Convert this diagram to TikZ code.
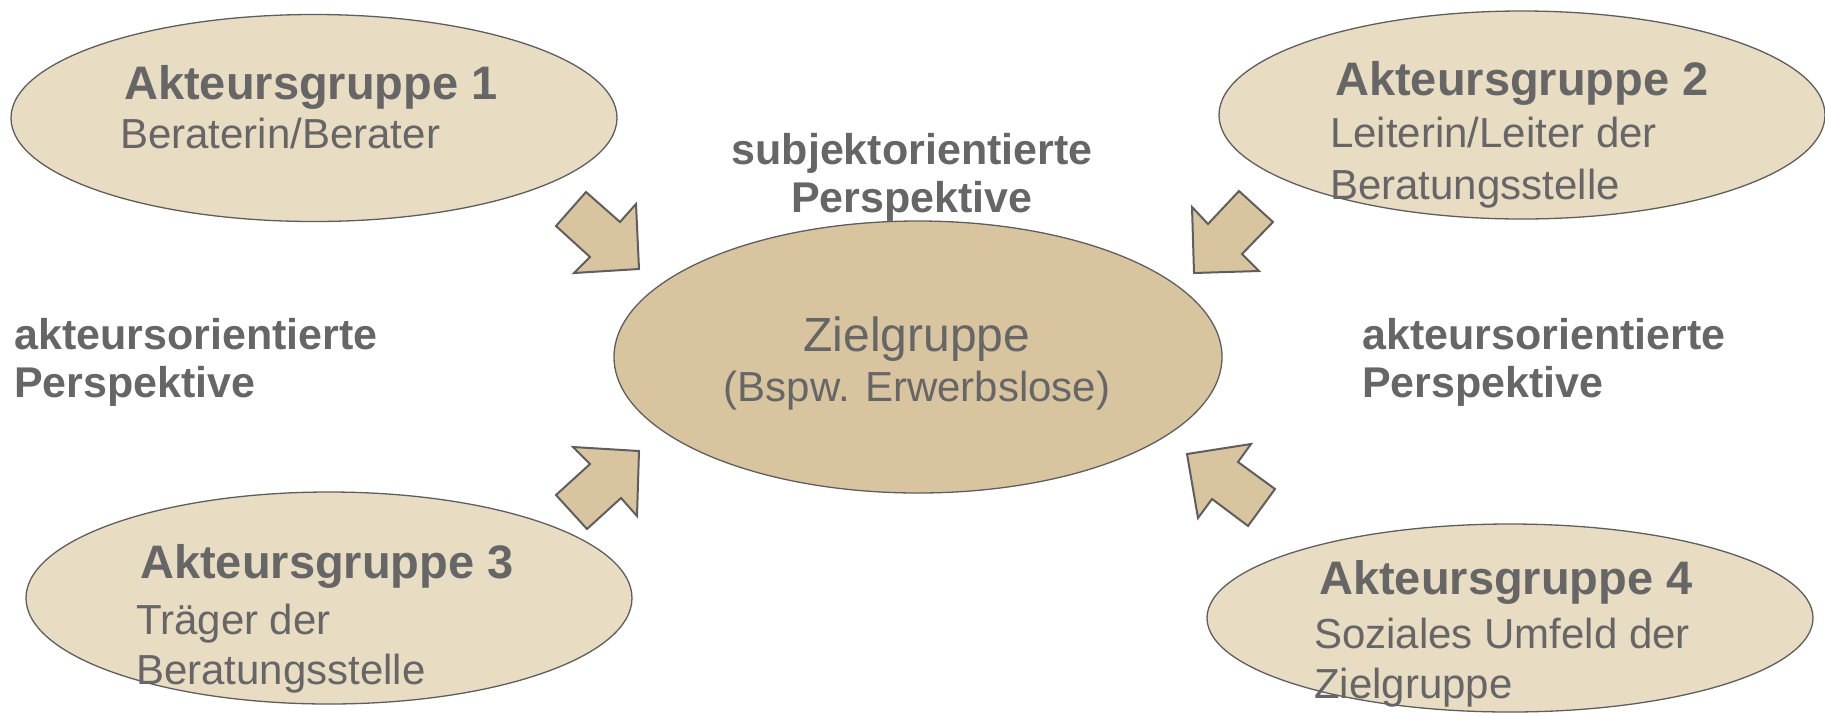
\documentclass[tikz,border=0pt]{standalone}
\usepackage{fontspec}
\setmainfont{Liberation Sans}
\usetikzlibrary{shapes.geometric}
\definecolor{hellbeige}{HTML}{E8DCC3}
\definecolor{dunkelbeige}{HTML}{D9C4A0}
\definecolor{schrift}{HTML}{666666}
\definecolor{rand}{HTML}{5E5E5E}
\tikzset{
  gruppe/.style={draw=rand, line width=1.3pt, fill=hellbeige, ellipse, inner sep=0pt},
  ziel/.style={draw=rand, line width=1.3pt, fill=dunkelbeige, ellipse, inner sep=0pt},
  pfeil/.style={draw=rand, line width=2pt, fill=dunkelbeige, line join=miter},
  titel/.style={text=schrift, font=\fontsize{47}{52}\selectfont\bfseries, anchor=base west, inner sep=0pt},
  zeile/.style={text=schrift, font=\fontsize{42}{50}\selectfont, anchor=base west, inner sep=0pt},
  perspektive/.style={text=schrift, font=\fontsize{43}{48}\selectfont\bfseries, anchor=base west, inner sep=0pt, align=left}
}
\begin{document}
\begin{tikzpicture}[x=1pt, y=-1pt]
  \useasboundingbox (0,0) rectangle (1825,716);

  % Akteursgruppen (Ellipsen)
  \node[gruppe, minimum width=606pt, minimum height=207pt] (g1) at (314,118) {};
  \node[gruppe, minimum width=606pt, minimum height=208pt] (g2) at (1522,115) {};
  \node[gruppe, minimum width=606pt, minimum height=212pt] (g3) at (329,598) {};
  \node[gruppe, minimum width=606pt, minimum height=188pt] (g4) at (1510,618) {};

  % Zielgruppe in der Mitte
  \node[ziel, minimum width=608pt, minimum height=272pt] (zg) at (918,357) {};

  % Blockpfeile zur Zielgruppe
  % oben links
  \draw[pfeil] (586,192) -- (556,226) -- (590,257) -- (574,273) -- (639,269)
    -- (636,204) -- (620,222) -- cycle;
  % oben rechts
  \draw[pfeil] (1239,191) -- (1273,222) -- (1242,254) -- (1259,271) -- (1194,273)
    -- (1192,207) -- (1208,224) -- cycle;
  % unten links
  \draw[pfeil] (573,447) -- (639,451) -- (637,516) -- (621,498) -- (587,529)
    -- (556,495) -- (590,464) -- cycle;
  % unten rechts
  \draw[pfeil] (1187,454) -- (1251,444) -- (1238,462) -- (1275,489) -- (1248,526)
    -- (1212,499) -- (1198,518) -- cycle;

  % Beschriftungen
  \node[titel] (t1) at (124,99) {Akteursgruppe 1};
  \node[zeile] (b1) at (120,148) {Beraterin/Berater};

  \node[titel] (t2) at (1335,95) {Akteursgruppe 2};
  \node[zeile] (b2a) at (1330,147) {Leiterin/Leiter der};
  \node[zeile] (b2b) at (1330,199) {Beratungsstelle};

  \node[titel] (t3) at (140,578) {Akteursgruppe 3};
  \node[zeile] (b3a) at (136,634) {Träger der};
  \node[zeile] (b3b) at (136,684) {Beratungsstelle};

  \node[titel] (t4) at (1319,594) {Akteursgruppe 4};
  \node[zeile] (b4a) at (1314,648) {Soziales Umfeld der};
  \node[zeile] (b4b) at (1314,698) {Zielgruppe};

  \node[text=schrift, font=\fontsize{48}{52}\selectfont, anchor=base, inner sep=0pt] (zt) at (917,351) {Zielgruppe};
  \node[zeile, anchor=base] (zb) at (917,401) {(Bspw. Erwerbslose)};

  % Perspektiven (Grundlinie = letzte Zeile)
  \node[perspektive, anchor=base, align=center] (sp) at (912,212) {subjektorientierte\\Perspektive};
  \node[perspektive] (al) at (14,397) {akteursorientierte\\Perspektive};
  \node[perspektive] (ar) at (1362,397) {akteursorientierte\\Perspektive};
\end{tikzpicture}
\end{document}
